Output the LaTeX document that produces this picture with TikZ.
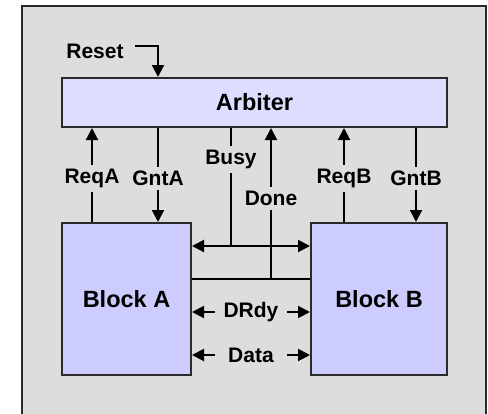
\documentclass[tikz,border=0pt]{standalone}
\usepackage{fontspec}
\setmainfont{Liberation Sans}
\usetikzlibrary{arrows.meta}
\definecolor{panelgrey}{HTML}{DDDDDD}
\definecolor{arbfill}{HTML}{DDDDFF}
\definecolor{blkfill}{HTML}{CCCCFF}
\definecolor{edgegrey}{HTML}{2A2A2A}

\begin{document}
\begin{tikzpicture}[x=1pt, y=-1pt, line width=2pt, >={Triangle[length=12pt, width=12pt]}]
    \tikzstyle{unit} = [rectangle, draw=edgegrey, inner sep=0pt, font=\fontsize{23.5}{28}\selectfont\bfseries]
    \tikzstyle{sig} = [fill=panelgrey, inner sep=4pt, font=\fontsize{21}{25}\selectfont\bfseries]

    % Panel
    \useasboundingbox (0,0) rectangle (488,413);
    \clip (0,0) rectangle (488,413);
    \draw [fill=panelgrey, draw=edgegrey] (22,6) rectangle (486,440);

    % Units
    \node [unit, fill=arbfill, minimum width=385pt, minimum height=49pt] (arbiter) at (254.5,102.5) {Arbiter};
    \node [unit, fill=blkfill, minimum width=129pt, minimum height=152pt] (blockA) at (126.5,299) {Block A};
    \node [unit, fill=blkfill, minimum width=136pt, minimum height=152pt] (blockB) at (379,299) {Block B};

    % Signal columns and rows
    \coordinate (xReqA) at (92,0);
    \coordinate (xGntA) at (158,0);
    \coordinate (xReqB) at (344,0);
    \coordinate (xGntB) at (416,0);
    \coordinate (busyjoin) at (231,246);
    \coordinate (donejoin) at (271,279);
    \coordinate (yDRdy) at (0,312);
    \coordinate (yData) at (0,355);

    % Reset
    \node [sig, fill=none] (reset) at (95,51) {Reset};
    \coordinate (resetstart) at (135,46);
    \coordinate (resetcorner) at (158,46);
    \draw [->] (resetstart) -- (resetcorner) -- (resetcorner |- arbiter.north);

    % Requests and grants
    \draw [->] (blockA.north -| xReqA) -- node[sig, pos=0.46] {ReqA} (arbiter.south -| xReqA);
    \draw [->] (arbiter.south -| xGntA) -- node[sig, pos=0.54] {GntA} (blockA.north -| xGntA);
    \draw [->] (blockB.north -| xReqB) -- node[sig, pos=0.46] {ReqB} (arbiter.south -| xReqB);
    \draw [->] (arbiter.south -| xGntB) -- node[sig, pos=0.54] {GntB} (blockB.north -| xGntB);

    % Busy and Done
    \draw (arbiter.south -| busyjoin) -- node[sig, pos=0.265] {Busy} (busyjoin);
    \draw [<->] (blockA.east |- busyjoin) -- (blockB.west |- busyjoin);
    \draw (blockA.east |- donejoin) -- (blockB.west |- donejoin);
    \draw [->] (donejoin) -- node[sig, pos=0.533] {Done} (arbiter.south -| donejoin);

    % Data path
    \draw [<->] (blockA.east |- yDRdy) -- node[sig, minimum width=72pt] {DRdy} (blockB.west |- yDRdy);
    \draw [<->] (blockA.east |- yData) -- node[sig, minimum width=72pt] {Data} (blockB.west |- yData);
\end{tikzpicture}
\end{document}
